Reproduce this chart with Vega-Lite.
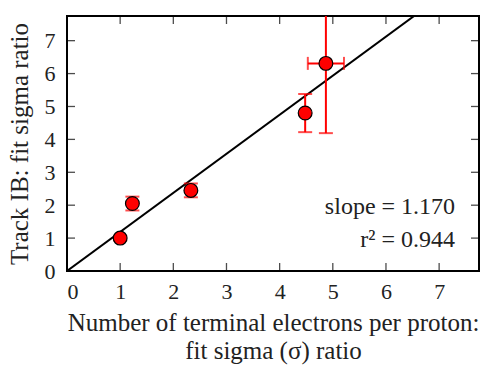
{
  "$schema": "https://vega.github.io/schema/vega-lite/v6.json",
  "autosize": "none",
  "width": 412,
  "height": 255,
  "padding": {"left": 67, "top": 16, "right": 25, "bottom": 99},
  "background": "white",
  "config": {
    "font": "Liberation Serif",
    "view": {"stroke": "black", "strokeWidth": 2},
    "axis": {
      "grid": false,
      "domain": false,
      "ticks": false,
      "tickCount": 8,
      "format": "d",
      "labelOverlap": false,
      "labelFont": "Liberation Serif",
      "labelFontSize": 22,
      "labelColor": "#222",
      "titleFont": "Liberation Serif",
      "titleFontSize": 25,
      "titleFontWeight": "normal",
      "titleColor": "#222"
    }
  },
  "datasets": {
    "pts": [
      {"x": 1.0, "y": 1.0, "ylo": 0.93, "yhi": 1.07},
      {"x": 1.23, "y": 2.05, "ylo": 1.84, "yhi": 2.26},
      {"x": 2.33, "y": 2.45, "ylo": 2.24, "yhi": 2.66},
      {"x": 4.48, "y": 4.8, "ylo": 4.22, "yhi": 5.38},
      {"x": 4.87, "y": 6.31, "xlo": 4.53, "xhi": 5.21, "ylo": 4.19, "yhi": 8.43}
    ],
    "fit": [
      {"x": 0, "y": 0},
      {"x": 7.0, "y": 8.31}
    ],
    "notes": [
      {"x": 7.3, "y": 1.95, "label": "slope = 1.170"},
      {"x": 7.3, "y": 0.93, "label": "r² = 0.944"}
    ],
    "tv": [{"v": 0}, {"v": 1}, {"v": 2}, {"v": 3}, {"v": 4}, {"v": 5}, {"v": 6}, {"v": 7}]
  },
  "layer": [
    {
      "data": {"name": "pts"},
      "mark": {"type": "point", "shape": "circle", "filled": true, "fill": "red", "stroke": "black", "strokeWidth": 1.2, "size": 190, "opacity": 0},
      "encoding": {
        "x": {"field": "x", "type": "quantitative", "scale": {"domain": [0, 7.75], "nice": false, "zero": false},
          "axis": {"orient": "bottom", "labelPadding": 10, "titlePadding": 8,
            "title": ["Number of terminal electrons per proton:", "fit sigma (σ) ratio"], "titleLineHeight": 28}},
        "y": {"field": "y", "type": "quantitative", "scale": {"domain": [0, 7.75], "nice": false, "zero": false},
          "axis": {"orient": "left", "labelPadding": 12, "titlePadding": 12,
            "title": "Track IB: fit sigma ratio"}}
      }
    },
    {
      "data": {"name": "tv"},
      "mark": {"type": "tick", "orient": "vertical", "color": "black", "size": 16, "thickness": 1.3, "clip": true},
      "encoding": {
        "x": {"field": "v", "type": "quantitative"},
        "y": {"datum": 0, "type": "quantitative"}
      }
    },
    {
      "data": {"name": "tv"},
      "mark": {"type": "tick", "orient": "vertical", "color": "black", "size": 16, "thickness": 1.3, "clip": true},
      "encoding": {
        "x": {"field": "v", "type": "quantitative"},
        "y": {"datum": 7.75, "type": "quantitative"}
      }
    },
    {
      "data": {"name": "tv"},
      "mark": {"type": "tick", "orient": "horizontal", "color": "black", "size": 16, "thickness": 1.3, "clip": true},
      "encoding": {
        "x": {"datum": 0, "type": "quantitative"},
        "y": {"field": "v", "type": "quantitative"}
      }
    },
    {
      "data": {"name": "tv"},
      "mark": {"type": "tick", "orient": "horizontal", "color": "black", "size": 16, "thickness": 1.3, "clip": true},
      "encoding": {
        "x": {"datum": 7.75, "type": "quantitative"},
        "y": {"field": "v", "type": "quantitative"}
      }
    },
    {
      "data": {"name": "fit"},
      "mark": {"type": "line", "color": "black", "strokeWidth": 2, "clip": true},
      "encoding": {
        "x": {"field": "x", "type": "quantitative"},
        "y": {"field": "y", "type": "quantitative"}
      }
    },
    {
      "data": {"name": "pts"},
      "mark": {"type": "rule", "color": "red", "strokeWidth": 2, "clip": true},
      "encoding": {
        "x": {"field": "x", "type": "quantitative"},
        "y": {"field": "ylo", "type": "quantitative"},
        "y2": {"field": "yhi"}
      }
    },
    {
      "data": {"name": "pts"},
      "mark": {"type": "tick", "orient": "horizontal", "color": "red", "size": 14, "thickness": 2, "clip": true},
      "encoding": {
        "x": {"field": "x", "type": "quantitative"},
        "y": {"field": "ylo", "type": "quantitative"}
      }
    },
    {
      "data": {"name": "pts"},
      "mark": {"type": "tick", "orient": "horizontal", "color": "red", "size": 14, "thickness": 2, "clip": true},
      "encoding": {
        "x": {"field": "x", "type": "quantitative"},
        "y": {"field": "yhi", "type": "quantitative"}
      }
    },
    {
      "data": {"name": "pts"},
      "transform": [{"filter": "isValid(datum.xlo)"}],
      "mark": {"type": "rule", "color": "red", "strokeWidth": 2, "clip": true},
      "encoding": {
        "x": {"field": "xlo", "type": "quantitative"},
        "x2": {"field": "xhi"},
        "y": {"field": "y", "type": "quantitative"}
      }
    },
    {
      "data": {"name": "pts"},
      "transform": [{"filter": "isValid(datum.xlo)"}],
      "mark": {"type": "tick", "orient": "vertical", "color": "red", "size": 13, "thickness": 2, "clip": true},
      "encoding": {
        "x": {"field": "xlo", "type": "quantitative"},
        "y": {"field": "y", "type": "quantitative"}
      }
    },
    {
      "data": {"name": "pts"},
      "transform": [{"filter": "isValid(datum.xlo)"}],
      "mark": {"type": "tick", "orient": "vertical", "color": "red", "size": 13, "thickness": 2, "clip": true},
      "encoding": {
        "x": {"field": "xhi", "type": "quantitative"},
        "y": {"field": "y", "type": "quantitative"}
      }
    },
    {
      "data": {"name": "pts"},
      "mark": {"type": "point", "shape": "circle", "filled": true, "fill": "red", "stroke": "black", "strokeWidth": 1.2, "size": 190, "opacity": 1},
      "encoding": {
        "x": {"field": "x", "type": "quantitative"},
        "y": {"field": "y", "type": "quantitative"}
      }
    },
    {
      "data": {"name": "notes"},
      "mark": {"type": "text", "align": "right", "baseline": "middle", "fontSize": 24, "font": "Liberation Serif", "color": "#222"},
      "encoding": {
        "x": {"field": "x", "type": "quantitative"},
        "y": {"field": "y", "type": "quantitative"},
        "text": {"field": "label"}
      }
    }
  ]
}
